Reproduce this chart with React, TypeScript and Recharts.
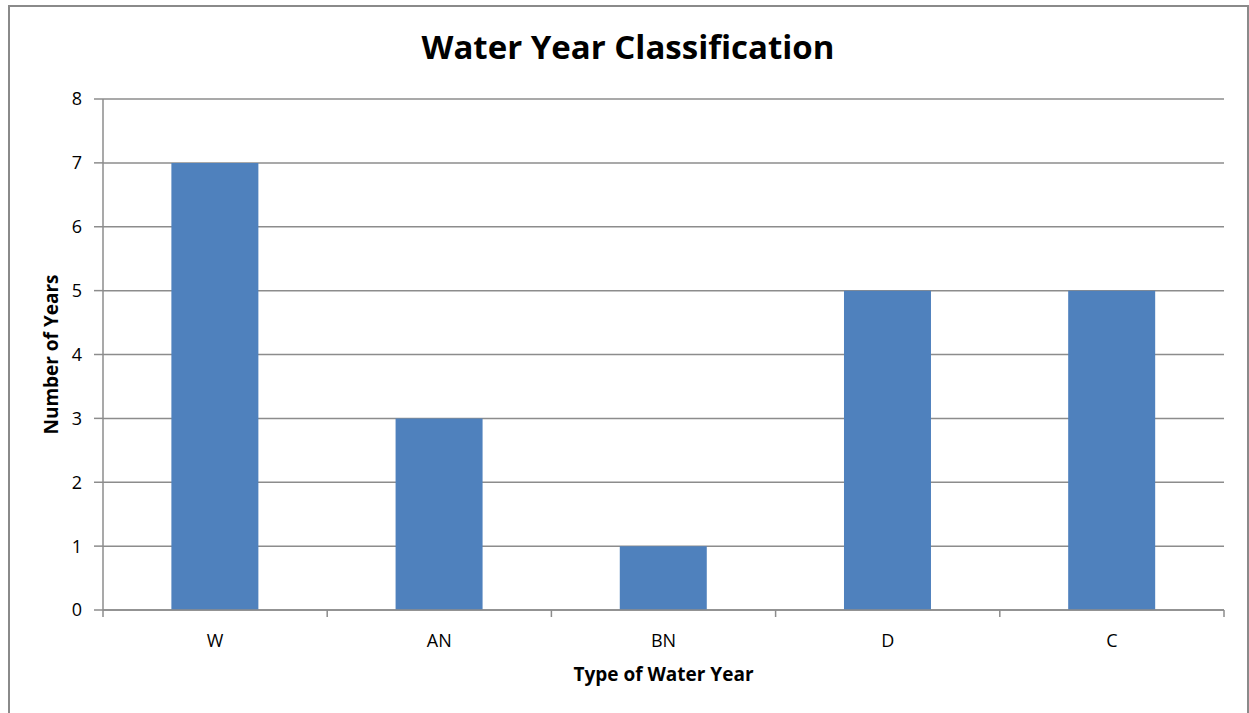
import { BarChart, Bar, XAxis, YAxis, CartesianGrid, Label } from "recharts";

const categories = ["W", "AN", "BN", "D", "C"];
const yearCounts = [7, 3, 1, 5, 5];
const yTicks = [0, 1, 2, 3, 4, 5, 6, 7, 8];

const data = categories.map((type, i) => ({ type, years: yearCounts[i] }));

const FONT = "'Open Sans', sans-serif";
const GRID = "#8c8c8c";

// category label plus the small tick marks at the band edges
function CategoryTick(props: any) {
  const { x, y, payload, index, visibleTicksCount } = props;
  const half = payload.offset || 0;
  const last = index === visibleTicksCount - 1;
  return (
    <g>
      <line x1={x - half} x2={x - half} y1={y - 24} y2={y - 17} stroke={GRID} strokeWidth={1.5} />
      {last && (
        <line x1={x + half} x2={x + half} y1={y - 24} y2={y - 17} stroke={GRID} strokeWidth={1.5} />
      )}
      <text x={x} y={y} dy="0.71em" textAnchor="middle" fill="#000" fontSize={18} fontFamily={FONT}>
        {payload.value}
      </text>
    </g>
  );
}

export default function App() {
  return (
    <div
      style={{
        position: "fixed",
        left: 0,
        top: 0,
        width: 1249,
        height: 713,
        overflow: "hidden",
        background: "#fff",
        fontFamily: FONT,
      }}
    >
      <div
        style={{
          position: "absolute",
          left: 8,
          top: 5,
          width: 1237,
          height: 760,
          border: "2px solid #8a8a8a",
        }}
      />
      <div
        style={{
          position: "absolute",
          left: 0,
          width: 1256,
          top: 24,
          textAlign: "center",
          fontSize: 33,
          fontWeight: 700,
          color: "#000",
        }}
      >
        Water Year Classification
      </div>
      <div style={{ position: "absolute", left: 0, top: 0 }}>
        <BarChart
          width={1249}
          height={713}
          data={data}
          margin={{ top: 99, right: 25, bottom: 63, left: 43 }}
          barCategoryGap="30.5%"
        >
          <CartesianGrid vertical={false} stroke={GRID} strokeWidth={1.5} />
          <XAxis
            dataKey="type"
            height={40}
            tickLine={false}
            axisLine={{ stroke: GRID, strokeWidth: 1.5 }}
            tickSize={0}
            tickMargin={24}
            interval={0}
            tick={<CategoryTick />}
          >
            <Label
              value="Type of Water Year"
              position="insideBottom"
              offset={-31}
              style={{ fill: "#000", fontSize: 19, fontWeight: 700, fontFamily: FONT }}
            />
          </XAxis>
          <YAxis
            domain={[0, 8]}
            ticks={yTicks}
            interval={0}
            width={60}
            tickSize={9}
            tickMargin={12}
            axisLine={{ stroke: GRID, strokeWidth: 1.5 }}
            tickLine={{ stroke: GRID, strokeWidth: 1.5 }}
            tick={{ fill: "#000", fontSize: 18, fontFamily: FONT }}
          >
            <Label
              value="Number of Years"
              angle={-90}
              position="insideLeft"
              offset={8}
              style={{ fill: "#000", fontSize: 19, fontWeight: 700, fontFamily: FONT, textAnchor: "middle" }}
            />
          </YAxis>
          <Bar dataKey="years" fill="#4f81bd" isAnimationActive={false} />
        </BarChart>
      </div>
    </div>
  );
}
